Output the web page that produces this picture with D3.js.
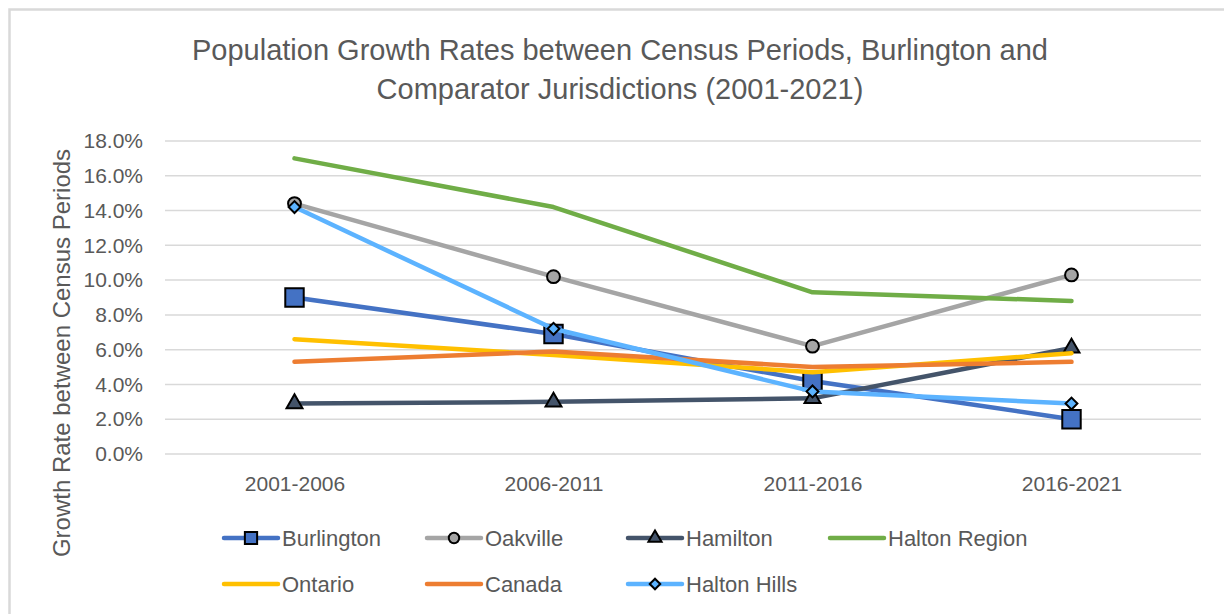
<!DOCTYPE html>
<html>
<head>
<meta charset="utf-8">
<style>
	body { margin: 0; background: #fff; }
	text { font-family: 'Liberation Sans Narrow', 'Arial Narrow', 'Liberation Sans', sans-serif; fill: #595959; }
	.grid line { stroke: #d9d9d9; stroke-width: 1.5; }
	.serie { fill: none; stroke-width: 4.5; stroke-linecap: round; stroke-linejoin: round; }
</style>
</head>
<body>
<svg width="1224" height="614"></svg>
<script src="https://d3js.org/d3.v7.min.js"></script>
<script>

var periods = ["2001-2006", "2006-2011", "2011-2016", "2016-2021"];
var burlington = [9.0, 6.9, 4.2, 2.0];
var oakville = [14.4, 10.2, 6.2, 10.3];
var hamilton = [2.9, 3.0, 3.2, 6.1];
var haltonRegion = [17.0, 14.2, 9.3, 8.8];
var ontario = [6.6, 5.7, 4.7, 5.8];
var canada = [5.3, 5.9, 5.0, 5.3];
var haltonHills = [14.2, 7.2, 3.6, 2.9];
var yTicks = [0, 2, 4, 6, 8, 10, 12, 14, 16, 18];

// orden de dibujo = orden de la leyenda
var series = [
	{ name: "Burlington", values: burlington, color: "#4472C4", marker: "square" },
	{ name: "Oakville", values: oakville, color: "#A5A5A5", marker: "circle" },
	{ name: "Hamilton", values: hamilton, color: "#44546A", marker: "triangle" },
	{ name: "Halton Region", values: haltonRegion, color: "#70AD47", marker: null },
	{ name: "Ontario", values: ontario, color: "#FFC000", marker: null },
	{ name: "Canada", values: canada, color: "#ED7D31", marker: null },
	{ name: "Halton Hills", values: haltonHills, color: "#5CB3FF", marker: "diamond" }
];

var svg = d3.select("svg"),
margin = { top: 141, right: 23, bottom: 160, left: 165 },
width = +svg.attr("width") - margin.left - margin.right,
height = +svg.attr("height") - margin.top - margin.bottom;

svg.append("rect")
	.attr("x", 9.5).attr("y", 9.5)
	.attr("width", 1240).attr("height", 640)
	.attr("fill", "none")
	.attr("stroke", "#d9d9d9")
	.attr("stroke-width", 2.5);

var g = svg.append("g").attr("transform", "translate(" + margin.left + "," + margin.top + ")");

var x = d3.scalePoint()
	.domain(periods)
	.range([0, width])
	.padding(0.5);

var y = d3.scaleLinear()
	.domain([0, 18])
	.range([height, 0]);

// el rombo es un cuadrado girado 45 grados
var symbolType = {
	square: d3.symbolSquare,
	circle: d3.symbolCircle,
	triangle: d3.symbolTriangle,
	diamond: d3.symbolSquare
};
var symbolSize = { square: 340, circle: 130, triangle: 110, diamond: 70 };
var legendSize = { square: 150, circle: 85, triangle: 75, diamond: 55 };

function rot(m) {
	return m === "diamond" ? " rotate(45)" : "";
}

// lineas de cuadricula
g.append("g")
	.attr("class", "grid")
	.selectAll("line")
	.data(yTicks)
	.enter().append("line")
	.attr("x1", 0)
	.attr("x2", width)
	.attr("y1", function (d) { return y(d); })
	.attr("y2", function (d) { return y(d); });

// eje Y
var yAxis = g.append("g")
	.call(d3.axisLeft(y).tickValues(yTicks).tickSize(0).tickPadding(22)
		.tickFormat(function (d) { return d3.format(".1f")(d) + "%"; }));
yAxis.select(".domain").remove();
yAxis.selectAll("text").style("font-size", "21px");

// eje X
var xAxis = g.append("g")
	.attr("transform", "translate(0," + height + ")")
	.call(d3.axisBottom(x).tickSize(0).tickPadding(22));
xAxis.select(".domain").remove();
xAxis.selectAll("text").style("font-size", "21px");

var line = d3.line()
	.x(function (d, i) { return x(periods[i]); })
	.y(function (d) { return y(d); });

series.forEach(function (s) {
	g.append("path")
		.attr("class", "serie")
		.attr("stroke", s.color)
		.attr("d", line(s.values));
	if (s.marker) {
		g.selectAll(".m-" + s.marker)
			.data(s.values)
			.enter().append("path")
			.attr("class", "m-" + s.marker)
			.attr("transform", function (d, i) {
				return "translate(" + x(periods[i]) + "," + y(d) + ")" + rot(s.marker);
			})
			.attr("d", d3.symbol().type(symbolType[s.marker]).size(symbolSize[s.marker]))
			.attr("fill", s.color)
			.attr("stroke", "#000")
			.attr("stroke-width", 2);
	}
});

// titulo
var title = svg.append("text")
	.attr("x", 620)
	.attr("text-anchor", "middle")
	.style("font-size", "29px");
title.append("tspan").attr("x", 620).attr("y", 60)
	.text("Population Growth Rates between Census Periods, Burlington and");
title.append("tspan").attr("x", 620).attr("y", 99)
	.text("Comparator Jurisdictions (2001-2021)");

// titulo del eje Y
svg.append("text")
	.attr("transform", "translate(70,353) rotate(-90)")
	.attr("text-anchor", "middle")
	.style("font-size", "24px")
	.text("Growth Rate between Census Periods");

// leyenda
var legendCols = [222, 425, 626, 828];
var legendRows = [538, 584];
var legend = svg.selectAll(".legend")
	.data(series)
	.enter().append("g")
	.attr("class", "legend")
	.attr("transform", function (d, i) {
		return "translate(" + legendCols[i % 4] + "," + legendRows[Math.floor(i / 4)] + ")";
	});

legend.append("line")
	.attr("x1", 2).attr("x2", 56)
	.attr("stroke", function (d) { return d.color; })
	.attr("stroke-width", 4.5)
	.attr("stroke-linecap", "round");

legend.filter(function (d) { return d.marker; })
	.append("path")
	.attr("transform", function (d) { return "translate(29,0)" + rot(d.marker); })
	.attr("d", function (d) { return d3.symbol().type(symbolType[d.marker]).size(legendSize[d.marker])(); })
	.attr("fill", function (d) { return d.color; })
	.attr("stroke", "#000")
	.attr("stroke-width", 2);

legend.append("text")
	.attr("x", 60)
	.attr("dy", "0.35em")
	.style("font-size", "22px")
	.text(function (d) { return d.name; });

</script>
</body>
</html>
